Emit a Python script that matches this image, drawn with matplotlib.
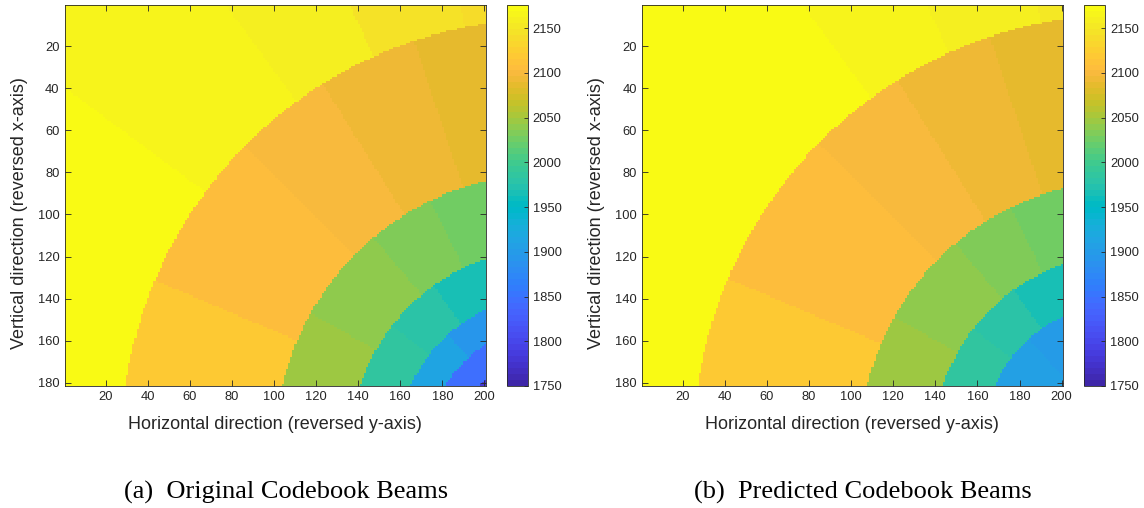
import matplotlib.pyplot as plt
import numpy as np
from matplotlib.colors import ListedColormap

# MATLAB parula colormap (64 entries)
parula = ListedColormap([
    [0.2422, 0.1504, 0.6603], [0.2504, 0.1650, 0.7076], [0.2578, 0.1818, 0.7511], [0.2647, 0.1978, 0.7952],
    [0.2706, 0.2147, 0.8364], [0.2751, 0.2342, 0.8710], [0.2783, 0.2559, 0.8991], [0.2803, 0.2782, 0.9221],
    [0.2813, 0.3006, 0.9414], [0.2810, 0.3228, 0.9579], [0.2795, 0.3447, 0.9717], [0.2760, 0.3667, 0.9829],
    [0.2699, 0.3892, 0.9906], [0.2602, 0.4123, 0.9952], [0.2440, 0.4358, 0.9988], [0.2206, 0.4603, 0.9973],
    [0.1963, 0.4847, 0.9892], [0.1834, 0.5074, 0.9798], [0.1786, 0.5289, 0.9682], [0.1764, 0.5499, 0.9520],
    [0.1687, 0.5703, 0.9359], [0.1540, 0.5902, 0.9218], [0.1460, 0.6091, 0.9079], [0.1380, 0.6276, 0.8973],
    [0.1248, 0.6459, 0.8883], [0.1113, 0.6635, 0.8763], [0.0952, 0.6798, 0.8598], [0.0689, 0.6948, 0.8394],
    [0.0297, 0.7082, 0.8163], [0.0036, 0.7203, 0.7917], [0.0067, 0.7312, 0.7660], [0.0433, 0.7411, 0.7394],
    [0.0964, 0.7500, 0.7120], [0.1408, 0.7584, 0.6842], [0.1717, 0.7670, 0.6554], [0.1938, 0.7758, 0.6251],
    [0.2161, 0.7843, 0.5923], [0.2470, 0.7918, 0.5567], [0.2906, 0.7973, 0.5188], [0.3406, 0.8008, 0.4789],
    [0.3909, 0.8029, 0.4354], [0.4456, 0.8024, 0.3909], [0.5044, 0.7993, 0.3480], [0.5616, 0.7942, 0.3045],
    [0.6174, 0.7876, 0.2612], [0.6720, 0.7793, 0.2227], [0.7242, 0.7698, 0.1910], [0.7738, 0.7598, 0.1646],
    [0.8203, 0.7498, 0.1535], [0.8634, 0.7406, 0.1596], [0.9035, 0.7330, 0.1774], [0.9393, 0.7288, 0.2100],
    [0.9728, 0.7298, 0.2394], [0.9956, 0.7434, 0.2371], [0.9970, 0.7659, 0.2199], [0.9952, 0.7893, 0.2028],
    [0.9892, 0.8136, 0.1885], [0.9786, 0.8386, 0.1766], [0.9676, 0.8639, 0.1643], [0.9610, 0.8890, 0.1537],
    [0.9597, 0.9135, 0.1423], [0.9628, 0.9373, 0.1265], [0.9691, 0.9606, 0.1064], [0.9769, 0.9839, 0.0805],
])

nx, ny = 200, 181
cx, cy = 231.0, 211.0   # beam origin, just outside the lower right corner
vmin, vmax = 1750, 2176

# ring radii from outside in, then the sector splits (deg) and beam index of each ring
orig_radii = [204.0, 130.6, 95.0, 72.5, 58.0, 45.0]
orig_angles = [[36.6, 53.8, 65.7, 78.5], [23.0, 44.6, 58.0, 71.5], [29.4, 50.0, 64.2],
               [37.7, 54.3], [48.0], [], []]
orig_beams = [[2175, 2169, 2158, 2149, 2142], [2118, 2108, 2102, 2095, 2088],
              [2047, 2040, 2034, 2025], [1987, 1980, 1966], [1912, 1896], [1845], [1780]]

pred_radii = [206.0, 127.0, 92.5, 69.7]
pred_angles = [[36.6, 53.8, 65.7, 78.5], [23.0, 44.6, 58.0, 71.5], [29.4, 50.0, 64.2],
               [37.7, 54.3], [48.0]]
pred_beams = [[2175, 2172, 2166, 2158, 2150], [2117, 2107, 2101, 2095, 2089],
              [2046, 2040, 2033, 2026], [1985, 1978, 1968], [1905, 1898]]

xticks = [20, 40, 60, 80, 100, 120, 140, 160, 180, 200]
yticks = [20, 40, 60, 80, 100, 120, 140, 160, 180]
cticks = [1750, 1800, 1850, 1900, 1950, 2000, 2050, 2100, 2150]


def beam_map(radii, angles, beams):
    x, y = np.meshgrid(np.arange(1, nx + 1), np.arange(1, ny + 1))
    r = np.hypot(cx - x, cy - y)
    th = np.degrees(np.arctan2(cy - y, cx - x))
    ring = (r[..., None] < np.array(radii)).sum(-1)
    out = np.zeros_like(r)
    for k in range(len(beams)):
        m = ring == k
        out[m] = np.array(beams[k])[np.searchsorted(angles[k], th[m])]
    return out


plt.rcParams['font.family'] = 'Liberation Sans'
dark = '#262626'
W, H = 1144, 508
fig = plt.figure(figsize=(W / 100, H / 100), dpi=100)


def panel(left, cleft, data, caption, capx):
    ax = fig.add_axes([left / W, (H - 386) / H, 421 / W, 381 / H])
    im = ax.imshow(data, cmap=parula, vmin=vmin, vmax=vmax, interpolation='nearest',
                   extent=(0.5, nx + 0.5, ny + 0.5, 0.5), aspect='auto')
    ax.set_xticks(xticks)
    ax.set_yticks(yticks)
    ax.tick_params(direction='in', top=True, right=True, length=4, width=0.6,
                   color=dark, labelcolor=dark, labelsize=9.3)
    for s in ax.spines.values():
        s.set_color(dark)
        s.set_linewidth(0.6)
    ax.set_xlabel('Horizontal direction (reversed y-axis)', fontsize=13, color=dark)
    ax.set_ylabel('Vertical direction (reversed x-axis)', fontsize=13, color=dark)
    ax.xaxis.set_label_coords(0.5, -0.08)
    ax.yaxis.set_label_coords(-0.087, 0.454)

    cax = fig.add_axes([cleft / W, (H - 386) / H, 21 / W, 381 / H])
    cb = fig.colorbar(im, cax=cax, ticks=cticks)
    cb.outline.set_edgecolor(dark)
    cb.outline.set_linewidth(0.6)
    cax.tick_params(direction='in', length=3, width=0.6, color=dark,
                    labelcolor=dark, labelsize=9.3)
    fig.text(capx / W, 1 - 492 / H, caption, ha='center', va='center',
             fontsize=19, family='Liberation Serif')


panel(64.5, 506.7, beam_map(orig_radii, orig_angles, orig_beams),
      '(a)  Original Codebook Beams', 286)
panel(641.7, 1084.0, beam_map(pred_radii, pred_angles, pred_beams),
      '(b)  Predicted Codebook Beams', 863)

fig.savefig('out.png', dpi=100)
